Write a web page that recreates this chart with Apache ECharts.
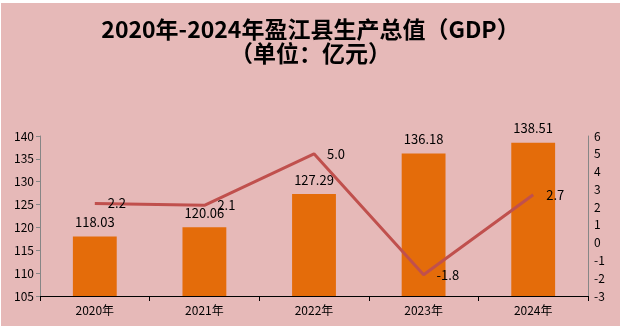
<!DOCTYPE html>
<html><head><meta charset="utf-8">
<script src="https://cdn.jsdelivr.net/npm/echarts@6/dist/echarts.min.js"></script>
<style>
html,body{margin:0;padding:0;background:#fff;width:621px;height:330px;overflow:hidden;}
#c{position:absolute;left:1px;top:3px;width:619px;height:323px;background:#E6B9B8;}
</style></head>
<body>
<div id="c"></div>
<script>
const categories = ['2020年','2021年','2022年','2023年','2024年'];
const gdpValues = [118.03, 120.06, 127.29, 136.18, 138.51];
const growthValues = [2.2, 2.1, 5.0, -1.8, 2.7];
const titleLine1 = '2020年-2024年盈江县生产总值（GDP）';
const titleLine2 = '（单位：亿元）';

const chart = echarts.init(document.getElementById('c'));
const font = '"Noto Sans CJK SC", sans-serif';
chart.setOption({
  backgroundColor: '#E6B9B8',
  animation: false,
  textStyle: {fontFamily: font},
  title: [
    {text: titleLine1, left: 'center', top: 10,
     textStyle: {fontSize: 23, fontWeight: 'bold', color: '#000', fontFamily: font}},
    {text: titleLine2, left: 'center', top: 34,
     textStyle: {fontSize: 23, fontWeight: 'bold', color: '#000', fontFamily: font}}
  ],
  grid: {left: 39, right: 32, top: 133, bottom: 30},
  xAxis: {
    type: 'category', data: categories, boundaryGap: true,
    axisLine: {onZero: false, lineStyle: {color: '#000', width: 1}},
    axisTick: {show: true, length: 5, lineStyle: {color: '#000'}},
    axisLabel: {color: '#000', fontSize: 12, margin: 8, fontFamily: font}
  },
  yAxis: [
    {type: 'value', min: 105, max: 140, interval: 5, position: 'left',
     axisLine: {show: true, lineStyle: {color: '#868686'}},
     axisTick: {show: true, length: 4, lineStyle: {color: '#868686'}},
     splitLine: {show: false},
     axisLabel: {color: '#000', fontSize: 12, margin: 6, fontFamily: font}},
    {type: 'value', min: -3, max: 6, interval: 1, position: 'right',
     axisLine: {show: true, lineStyle: {color: '#868686'}},
     axisTick: {show: false},
     splitLine: {show: false},
     axisLabel: {color: '#000', fontSize: 12, margin: 6, fontFamily: font}}
  ],
  series: [
    {type: 'bar', data: gdpValues, yAxisIndex: 0, barWidth: '40%',
     itemStyle: {color: '#E46C0A'},
     label: {show: true, position: 'top', distance: 8, color: '#000', fontSize: 13,
       fontFamily: font, formatter: p => p.value.toFixed(2)}},
    {type: 'line', data: growthValues, yAxisIndex: 1, symbol: 'circle', symbolSize: 0,
     showSymbol: true,
     lineStyle: {color: '#C0504D', width: 3},
     itemStyle: {color: '#C0504D'},
     label: {show: true, position: 'right', distance: 13, color: '#000', fontSize: 13,
       fontFamily: font, formatter: p => p.value.toFixed(1)}}
  ]
});
</script>
</body></html>
